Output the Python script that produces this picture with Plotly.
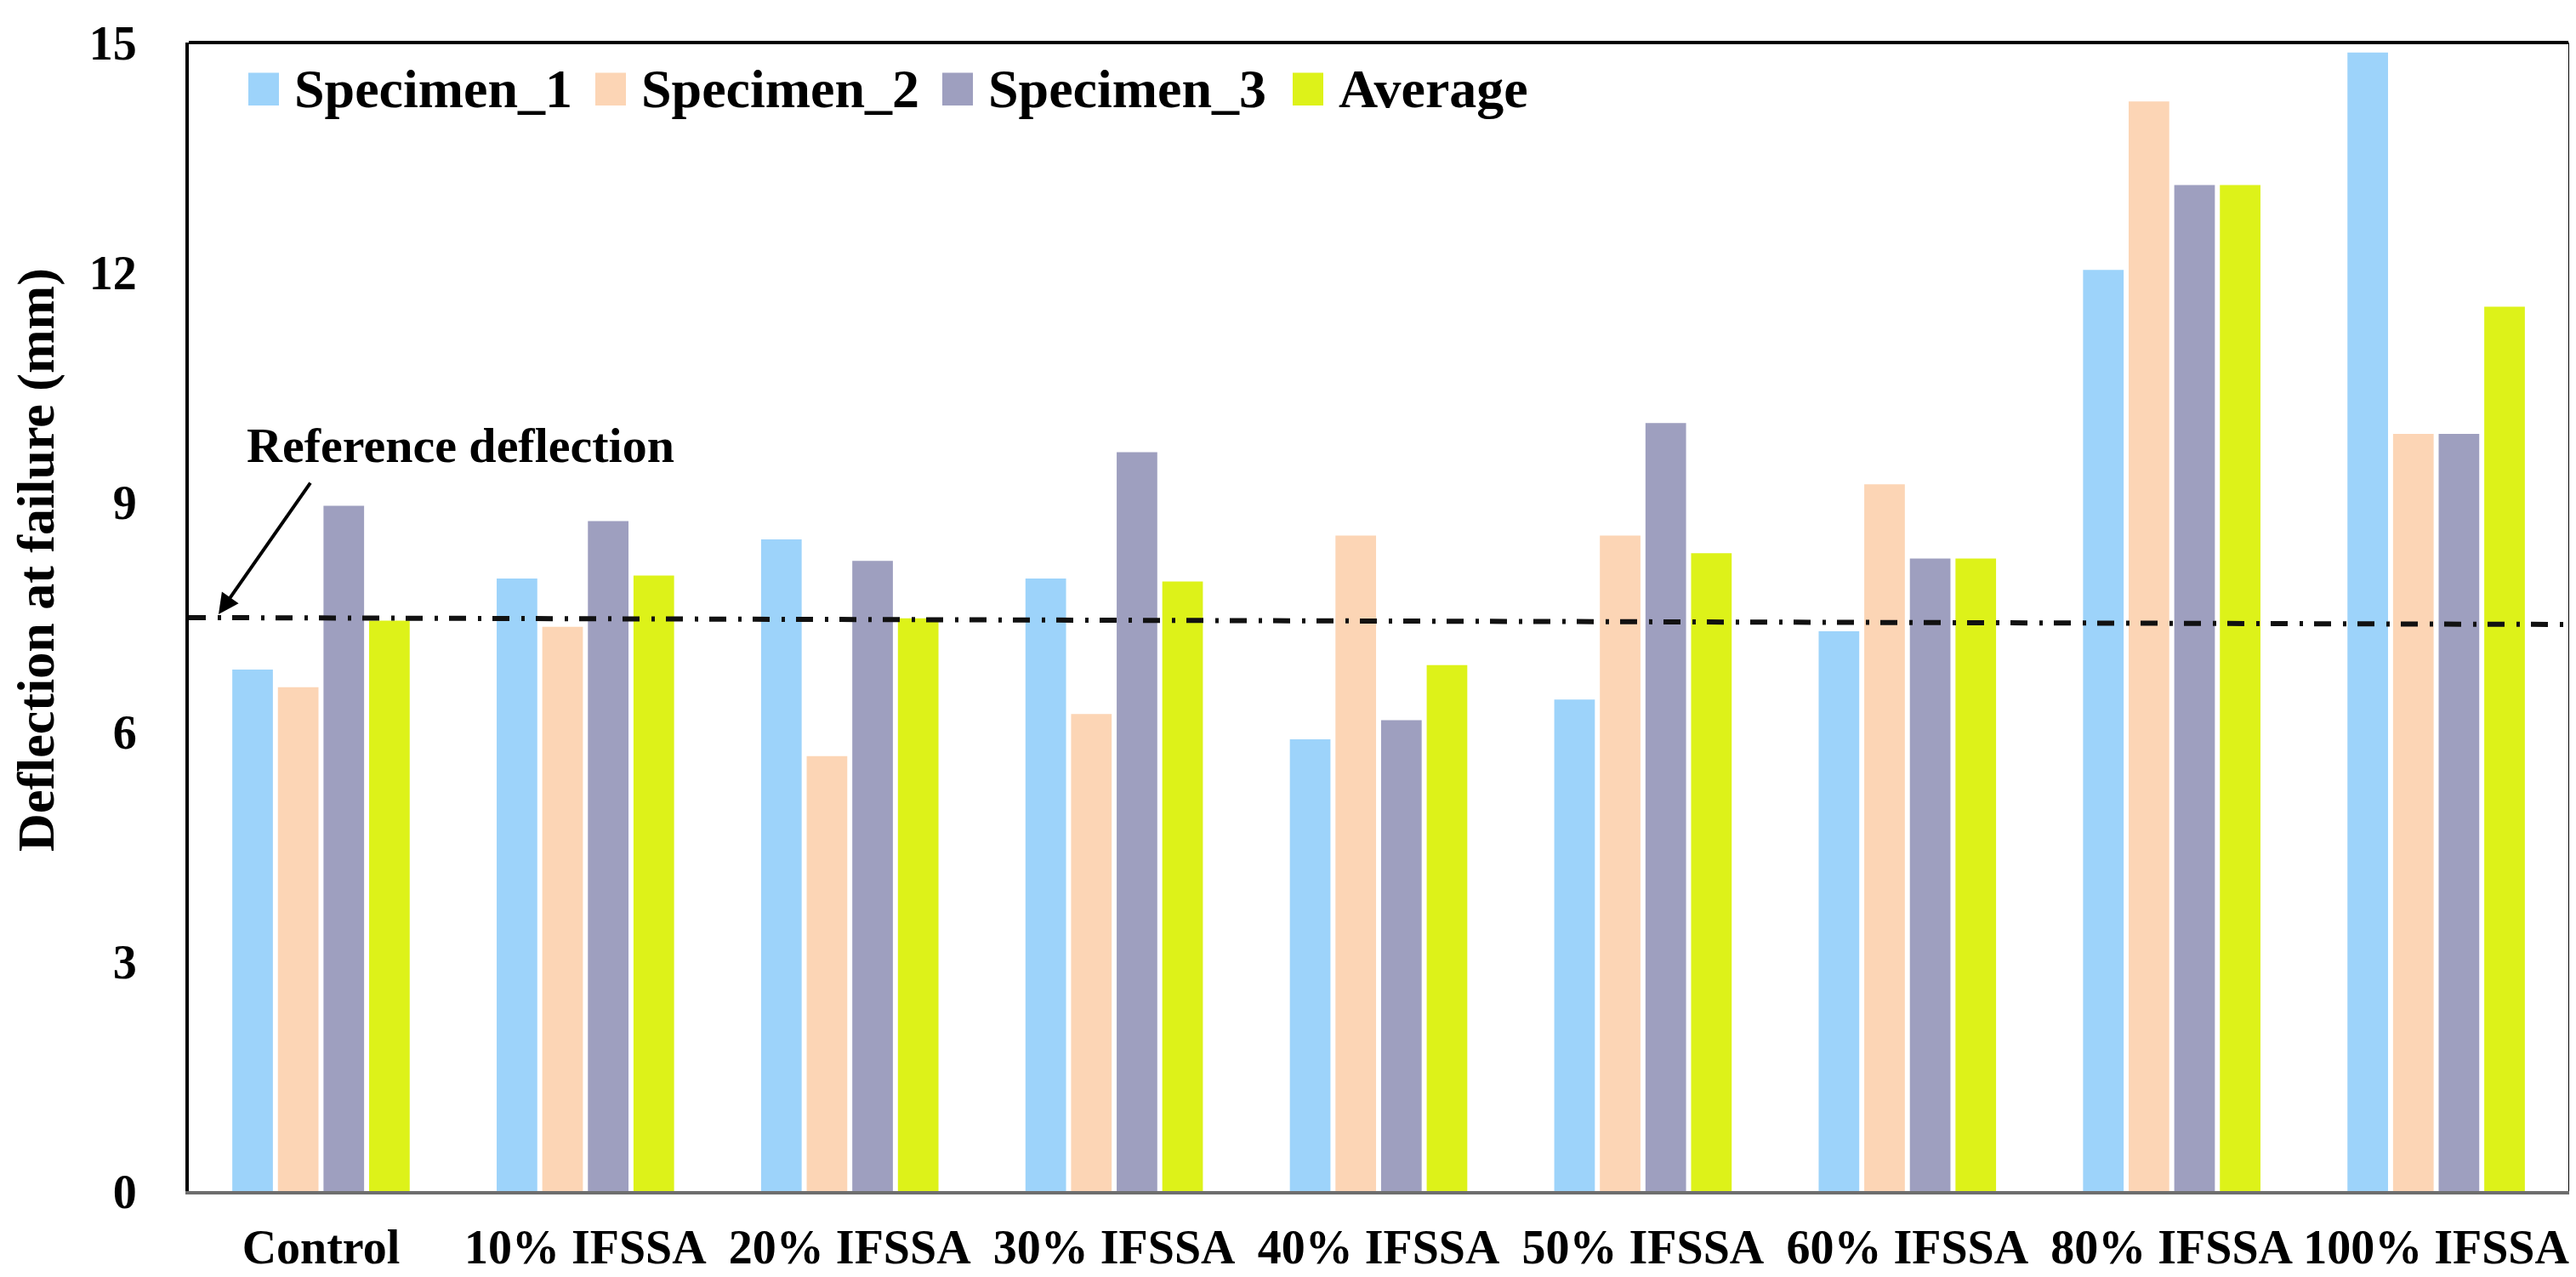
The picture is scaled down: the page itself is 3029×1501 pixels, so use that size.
import plotly.graph_objects as go

categories = ["Control", "10% IFSSA", "20% IFSSA", "30% IFSSA", "40% IFSSA",
              "50% IFSSA", "60% IFSSA", "80% IFSSA", "100% IFSSA"]
series_names = ["Specimen_1", "Specimen_2", "Specimen_3", "Average"]
specimen_1 = [6.81, 8.00, 8.51, 8.00, 5.90, 6.42, 7.31, 12.03, 14.87]
specimen_2 = [6.58, 7.37, 5.68, 6.23, 8.56, 8.56, 9.23, 14.23, 9.89]
specimen_3 = [8.95, 8.75, 8.23, 9.65, 6.15, 10.03, 8.26, 13.14, 9.89]
average = [7.45, 8.04, 7.48, 7.96, 6.87, 8.33, 8.26, 13.14, 11.55]
reference_line = [7.49, 7.40]   # value at left and right edge of the plot
y_ticks = [0, 3, 6, 9, 12, 15]

colors = ["#9DD3FA", "#FCD5B5", "#9E9FBF", "#DDF219"]
FONT = "Liberation Serif"

W_FIG, H_FIG = 3029, 1501
L, R, T, B = 214, 3012, 32, 1400


def px(x):
    return (x - L) / (R - L)


def py(y):
    return (B - y) / (B - T)


fig = go.Figure()
for name, vals, col in zip(series_names, [specimen_1, specimen_2, specimen_3, average], colors):
    fig.add_trace(go.Bar(x=categories, y=vals, name=name, marker=dict(color=col, line=dict(width=0)),
                         showlegend=False))

shapes = []
annotations = []

# reference line (dash-dot)
shapes.append(dict(type="line", xref="paper", yref="y", x0=0, x1=1,
                   y0=reference_line[0], y1=reference_line[1],
                   line=dict(color="#111111", width=6, dash="20px,14px,4px,13px")))
# top frame edge
shapes.append(dict(type="line", xref="paper", yref="paper", x0=0, x1=1, y0=1, y1=1,
                   line=dict(color="black", width=4)))

# manual legend
legend_x = [284, 692, 1100, 1512]
for name, col, x0 in zip(series_names, colors, legend_x):
    shapes.append(dict(type="rect", xref="paper", yref="paper",
                       x0=px(x0), x1=px(x0 + 36), y0=py(107), y1=py(68),
                       fillcolor=col, line=dict(width=0)))
    annotations.append(dict(text="<b>%s</b>" % name, xref="paper", yref="paper",
                            x=px(x0 + 52), y=py(87), xanchor="left", yanchor="middle",
                            showarrow=False, font=dict(family=FONT, size=64, color="black")))

# reference deflection label and arrow
annotations.append(dict(text="<b>Reference deflection</b>", xref="paper", yref="paper",
                        x=px(533), y=py(512), xanchor="center", yanchor="middle",
                        showarrow=False, font=dict(family=FONT, size=58, color="black")))
annotations.append(dict(text="", xref="paper", yref="paper", x=px(249), y=py(713),
                        ax=109, ay=-156, showarrow=True, arrowhead=2, arrowsize=1.2,
                        arrowwidth=4, arrowcolor="black"))

# y-axis title
annotations.append(dict(text="<b>Deflection at failure (mm)</b>", xref="paper", yref="paper",
                        x=px(35), y=py(648), xanchor="center", yanchor="middle", textangle=-90,
                        showarrow=False, font=dict(family=FONT, size=62, color="black")))

fig.update_layout(
    width=W_FIG, height=H_FIG,
    margin=dict(l=L, r=W_FIG - R, t=T, b=H_FIG - B, pad=0),
    paper_bgcolor="white", plot_bgcolor="white",
    barmode="group", bargap=0.31, bargroupgap=0.11,
    shapes=shapes, annotations=annotations,
    showlegend=False,
    font=dict(family=FONT, color="black"),
)
fig.update_xaxes(
    showline=True, linecolor="#6E6E6E", linewidth=4, ticks="", showgrid=False,
    tickfont=dict(family=FONT, size=56, color="black", weight="bold"),
    ticklabelstandoff=14,
)
fig.update_yaxes(
    range=[0, 15], tickvals=y_ticks, ticktext=[str(v) for v in y_ticks],
    showline=True, linecolor="black", linewidth=4, mirror=True, ticks="", showgrid=False,
    zeroline=False,
    tickfont=dict(family=FONT, size=56, color="black", weight="bold"),
    ticklabelstandoff=46,
)

fig.write_html("out.html")
